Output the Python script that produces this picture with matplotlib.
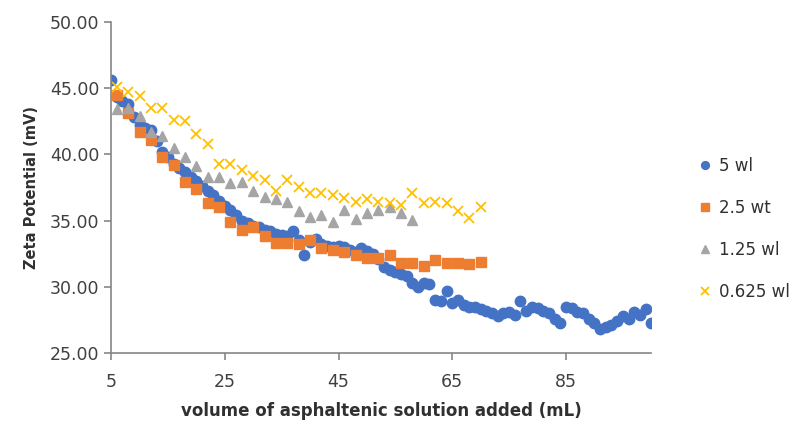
import matplotlib
matplotlib.use("Agg")
import matplotlib.pyplot as plt

# 5 wt series (one reading every mL)
x_5wt = list(range(5, 101))
y_5wt = [45.6, 44.3, 44.0, 43.8, 42.8, 42.2, 42.0, 41.8, 41.0, 40.2,
         39.8, 39.3, 39.0, 38.7, 38.3, 38.0, 37.6, 37.2, 36.9, 36.5,
         36.1, 35.8, 35.4, 35.0, 34.8, 34.6, 34.5, 34.3, 34.2, 34.0,
         33.9, 33.8, 34.2, 33.5, 32.4, 33.4, 33.6, 33.2, 33.1, 33.0,
         33.1, 33.0, 32.8, 32.6, 32.9, 32.7, 32.5, 32.1, 31.5, 31.3,
         31.1, 31.0, 30.8, 30.3, 30.0, 30.3, 30.2, 29.0, 28.9, 29.7,
         28.8, 29.0, 28.6, 28.5, 28.5, 28.3, 28.2, 28.0, 27.8, 28.0,
         28.1, 27.9, 28.9, 28.2, 28.5, 28.4, 28.2, 28.0, 27.6, 27.3,
         28.5, 28.4, 28.1, 28.0, 27.6, 27.3, 26.8, 27.0, 27.1, 27.4,
         27.8, 27.6, 28.1, 27.9, 28.3, 27.3]

# 2.5 wt series
x_25wt = list(range(6, 71, 2))
y_25wt = [44.5, 43.1, 41.7, 41.1, 39.8, 39.2, 37.9, 37.4, 36.3, 36.05,
          34.9, 34.3, 34.5, 33.8, 33.3, 33.3, 33.2, 33.5, 32.9, 32.8,
          32.6, 32.4, 32.2, 32.2, 32.4, 31.8, 31.8, 31.6, 32.0, 31.8,
          31.8, 31.7, 31.9]

# 1.25 wt series
x_125wt = list(range(6, 59, 2))
y_125wt = [43.4, 43.5, 42.9, 41.7, 41.35, 40.5, 39.8, 39.1, 38.3, 38.3,
           37.8, 37.9, 37.2, 36.8, 36.6, 36.4, 35.7, 35.3, 35.4, 34.9,
           35.8, 35.1, 35.6, 35.8, 36.0, 35.6, 35.05]

# 0.625 wt series
x_0625wt = list(range(6, 71, 2))
y_0625wt = [45.1, 44.7, 44.4, 43.5, 43.5, 42.6, 42.5, 41.5, 40.8, 39.3,
            39.3, 38.8, 38.4, 38.1, 37.2, 38.1, 37.5, 37.1, 37.1, 36.9,
            36.7, 36.4, 36.6, 36.4, 36.3, 36.2, 37.1, 36.3, 36.4, 36.3,
            35.7, 35.2, 36.0]

fig = plt.figure(figsize=(8.05, 4.28), dpi=100)
ax = fig.add_axes([0.138, 0.175, 0.671, 0.774])

ax.plot(x_5wt, y_5wt, 'o', color='#4472C4', markersize=7.5, label='5 wl')
ax.plot(x_25wt, y_25wt, 's', color='#ED7D31', markersize=7.5, label='2.5 wt')
ax.plot(x_125wt, y_125wt, '^', color='#A5A5A5', markersize=7.5, label='1.25 wl')
ax.plot(x_0625wt, y_0625wt, 'x', color='#FFC000', markersize=7, markeredgewidth=1.3,
        label='0.625 wl')

ax.set_xlim(5, 100)
ax.set_ylim(25, 50)
ax.set_xticks([5, 25, 45, 65, 85])
ax.set_yticks([25, 30, 35, 40, 45, 50])
ax.set_yticklabels([f'{v:.2f}' for v in [25, 30, 35, 40, 45, 50]])

for s in ['top', 'right']:
    ax.spines[s].set_visible(False)
for s in ['left', 'bottom']:
    ax.spines[s].set_color('#868686')
    ax.spines[s].set_linewidth(1.2)
ax.tick_params(axis='both', colors='#868686', labelcolor='#404040', labelsize=12.5,
               length=5, width=1.2)
ax.tick_params(axis='x', pad=9)

ax.set_ylabel('Zeta Potential (mV)', fontsize=10.5, fontweight='bold', color='#303030', labelpad=8)
ax.set_xlabel('volume of asphaltenic solution added (mL)', fontsize=12, fontweight='bold',
              color='#303030', labelpad=8)

ax.legend(loc='center left', bbox_to_anchor=(1.06, 0.375), frameon=False, fontsize=12,
          handlelength=0.8, handletextpad=0.4, labelspacing=1.45, markerscale=0.75,
          labelcolor='#303030')

fig.savefig('out.png', dpi=100)
